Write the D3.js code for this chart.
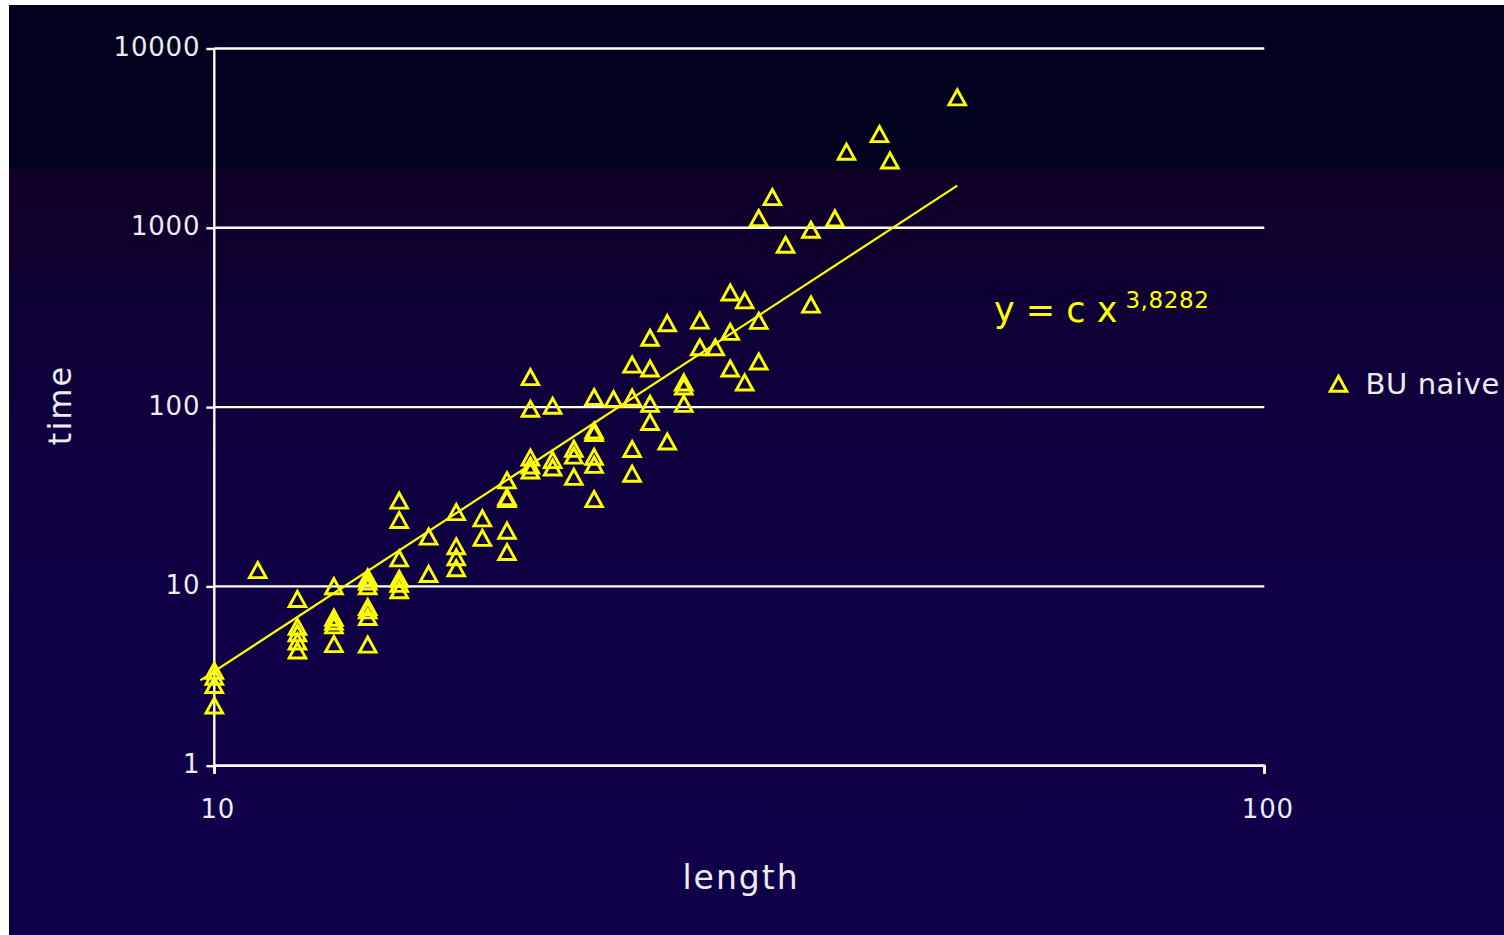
<!DOCTYPE html>
<html>
<head>
<meta charset="utf-8">
<script src="https://cdn.jsdelivr.net/npm/d3@7"></script>
<style>
  html, body { margin: 0; padding: 0; background: #ffffff; }
  svg { display: block; }
  text { font-family: "DejaVu Sans", Verdana, sans-serif; }
</style>
</head>
<body>
<svg id="chart" width="1504" height="935"></svg>
<script>
// Measured run times ("BU naive") against sequence length, log-log
const lengths = [
  10, 10, 10, 10,
  11,
  12, 12, 12, 12, 12,
  13, 13, 13, 13, 13,
  14, 14, 14, 14, 14, 14, 14,
  15, 15, 15, 15, 15, 15,
  16, 16,
  17, 17, 17, 17,
  18, 18,
  19, 19, 19, 19, 19,
  20, 20, 20, 20, 20,
  21, 21, 21,
  22, 22, 22,
  23, 23, 23, 23, 23, 23,
  24,
  25, 25, 25, 25,
  26, 26, 26, 26,
  27, 27,
  28, 28, 28,
  29, 29,
  30,
  31, 31, 31,
  32, 32,
  33, 33, 33,
  34,
  35,
  37, 37,
  39,
  40,
  43,
  44,
  51
];
const times = [
  3.37, 3.12, 2.81, 2.16,
  12.3,
  8.49, 5.94, 5.47, 4.92, 4.38,
  10.0, 6.67, 6.35, 6.05, 4.75,
  11.2, 10.6, 10.0, 7.65, 7.33, 6.73, 4.72,
  30.0, 23.4, 14.3, 11.0, 10.3, 9.5,
  18.9, 11.7,
  25.9, 16.7, 14.5, 12.6,
  23.9, 18.6,
  38.9, 31.4, 30.6, 20.4, 15.5,
  146.6, 97.6, 52.2, 47.1, 44.2,
  101.4, 50.5, 45.9,
  58.3, 53.5, 40.7,
  113.5, 73.8, 71.4, 52.7, 47.5, 30.6,
  110.6,
  172, 112.5, 58.2, 42.4,
  242.9, 163.6, 104, 82.3,
  293, 64.1,
  136.9, 130, 104,
  303, 215,
  215,
  434.6, 262, 163.6,
  392.5, 136.9,
  1130, 302, 179,
  1479,
  802,
  972, 372,
  1125,
  2648,
  3321,
  2367,
  5322
];

// Power-law trend y = c * x^k
const trendExponent = 3.8282;
const trendCoef = 4.99e-4;
const trendRange = [9.7, 51];

const xTicks = [10, 100];
const yTicks = [1, 10, 100, 1000, 10000];
const seriesName = "BU naive";
const xTitle = "length";
const yTitle = "time";

const svg = d3.select("#chart");
const W = 1504, H = 935;

// backdrop: white frame edge, dark band on top, navy gradient below
const defs = svg.append("defs");
const grad = defs.append("linearGradient")
  .attr("id", "bg").attr("gradientUnits", "userSpaceOnUse")
  .attr("x1", 0).attr("y1", 168).attr("x2", 0).attr("y2", 935);
[[0, "#0f0027"], [0.25, "#0f003a"], [0.55, "#0f0046"], [1, "#10004a"]]
  .forEach(([o, c]) => grad.append("stop").attr("offset", o).attr("stop-color", c));

svg.append("rect").attr("width", W).attr("height", H).attr("fill", "#ffffff");
svg.append("rect").attr("x", 9).attr("y", 168).attr("width", W - 9).attr("height", H - 168)
  .attr("fill", "url(#bg)");
svg.append("rect").attr("x", 9).attr("y", 5).attr("width", W - 9).attr("height", 163)
  .attr("fill", "#00001f");

const x = d3.scaleLog().domain([10, 100]).range([214.3, 1264.3]);
const y = d3.scaleLog().domain([1, 10000]).range([765.7, 48.5]);

const fmt = d3.format("d");

// horizontal gridlines
svg.append("g")
  .selectAll("line").data(yTicks).join("line")
  .attr("x1", x(10)).attr("x2", x(100))
  .attr("y1", d => y(d)).attr("y2", d => y(d))
  .attr("stroke", "#ffffff").attr("stroke-width", 2.4);

// y axis
const yAxis = svg.append("g")
  .attr("transform", `translate(${x(10)},0)`)
  .call(d3.axisLeft(y).tickValues(yTicks).tickFormat(fmt).tickSize(8).tickPadding(6));
yAxis.select(".domain").attr("stroke", "#ffffff").attr("stroke-width", 2.4)
  .attr("d", `M0,${y(10000)}V${y(1) + 8}`);
yAxis.selectAll(".tick line").attr("stroke", "#ffffff").attr("stroke-width", 2.4);
yAxis.selectAll(".tick text")
  .attr("fill", "#ececf2").attr("font-size", 26).attr("letter-spacing", 0.8).attr("dy", "0.27em")
  .style("font-family", "'DejaVu Sans', sans-serif");

// x axis
const xAxis = svg.append("g")
  .attr("transform", `translate(0,${y(1)})`)
  .call(d3.axisBottom(x).tickValues(xTicks).tickFormat(fmt).tickSize(8).tickPadding(26));
xAxis.select(".domain").attr("stroke", "#ffffff").attr("stroke-width", 2.4)
  .attr("d", `M${x(10)},0H${x(100)}V8`);
xAxis.selectAll(".tick line").attr("stroke", "#ffffff").attr("stroke-width", 2.4);
xAxis.selectAll(".tick text")
  .attr("fill", "#ececf2").attr("font-size", 26).attr("letter-spacing", 0.8).attr("dx", 3)
  .style("font-family", "'DejaVu Sans', sans-serif");

// axis titles
svg.append("text")
  .attr("x", 741).attr("y", 889).attr("text-anchor", "middle")
  .attr("fill", "#ececf2").attr("font-size", 33).attr("letter-spacing", 2)
  .text(xTitle);
svg.append("text")
  .attr("transform", "translate(71,405) rotate(-90)").attr("text-anchor", "middle")
  .attr("fill", "#ececf2").attr("font-size", 32).attr("letter-spacing", 2)
  .text(yTitle);

// trend line
const trendPts = trendRange.map(v => [v, trendCoef * Math.pow(v, trendExponent)]);
svg.append("path")
  .datum(trendPts)
  .attr("fill", "none").attr("stroke", "#ffff00").attr("stroke-width", 2.2)
  .attr("d", d3.line().x(d => x(d[0])).y(d => y(d[1])));

// triangle markers
const tri = "M0,-7.8L8.3,7.3L-8.3,7.3Z";
const pts = lengths.map((l, i) => ({ l, t: times[i] }));
svg.append("g")
  .selectAll("path").data(pts).join("path")
  .attr("transform", d => `translate(${x(d.l)},${y(d.t)})`)
  .attr("d", tri)
  .attr("fill", "none").attr("stroke", "#ffff00").attr("stroke-width", 2.9)
  .attr("stroke-linejoin", "miter");

// trend equation
const eq = svg.append("text")
  .attr("x", 994).attr("y", 322).attr("fill", "#ffff00").attr("font-size", 35);
eq.append("tspan").text("y = c x");
eq.append("tspan").attr("dx", 8).attr("dy", -14).attr("font-size", 23).attr("letter-spacing", 0.6)
  .text(String(trendExponent).replace(".", ","));

// legend
const lg = svg.append("g").attr("transform", "translate(1338.5,384)");
lg.append("path").attr("d", tri)
  .attr("fill", "none").attr("stroke", "#ffff00").attr("stroke-width", 2.9);
lg.append("text").attr("x", 27).attr("y", 10)
  .attr("fill", "#ececf2").attr("font-size", 29).attr("letter-spacing", 0.6).text(seriesName);
</script>
</body>
</html>
